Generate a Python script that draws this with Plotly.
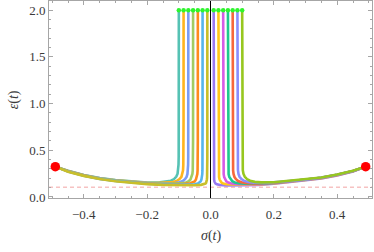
import plotly.graph_objects as go

# ---- data ----
left_ends = [-0.1, -0.085, -0.07, -0.055, -0.04, -0.025, -0.01]
right_ends = [0.01, 0.025, 0.04, 0.055, 0.07, 0.085, 0.1]

left_colors = ["#56c2b4", "#ffb41e", "#7a9cf5", "#a2cc62", "#ff8a1c", "#55b5ee", "#c9bf2a"]
right_colors = ["#9878f2", "#ffc61a", "#d65be6", "#1ec98f", "#f7673d", "#8a8dff", "#97c71f"]

L1_sig = [-0.49, -0.45, -0.40, -0.35, -0.30, -0.25, -0.20, -0.16, -0.14, -0.125, -0.115, -0.108, -0.104, -0.102, -0.101, -0.1005, -0.1002, -0.1001, -0.1]
L1_eps = [0.325, 0.280, 0.235, 0.202, 0.181, 0.166, 0.155, 0.156, 0.162, 0.174, 0.192, 0.218, 0.249, 0.287, 0.345, 0.430, 0.609, 0.819, 2.0]

L2_sig = [-0.49, -0.45, -0.40, -0.35, -0.30, -0.25, -0.20, -0.17, -0.136, -0.119, -0.1063, -0.0978, -0.0918, -0.0884, -0.0867, -0.0859, -0.0854, -0.0852, -0.0851, -0.085]
L2_eps = [0.325, 0.279, 0.233, 0.201, 0.179, 0.164, 0.152, 0.149, 0.153, 0.160, 0.172, 0.191, 0.216, 0.248, 0.286, 0.344, 0.429, 0.608, 0.818, 2.0]

L3_sig = [-0.49, -0.45, -0.40, -0.35, -0.30, -0.25, -0.20, -0.15, -0.14, -0.112, -0.098, -0.0875, -0.0805, -0.0756, -0.0728, -0.0714, -0.0707, -0.07035, -0.07014, -0.07007, -0.07]
L3_eps = [0.325, 0.277, 0.232, 0.199, 0.177, 0.162, 0.149, 0.145, 0.145, 0.150, 0.158, 0.170, 0.190, 0.215, 0.247, 0.285, 0.343, 0.428, 0.607, 0.817, 2.0]

L4_sig = [-0.49, -0.45, -0.40, -0.35, -0.30, -0.25, -0.20, -0.15, -0.11, -0.088, -0.077, -0.0688, -0.0633, -0.0594, -0.0572, -0.0561, -0.0556, -0.0553, -0.0551, -0.05505, -0.055]
L4_eps = [0.325, 0.276, 0.231, 0.198, 0.175, 0.160, 0.147, 0.141, 0.142, 0.148, 0.156, 0.169, 0.188, 0.214, 0.246, 0.284, 0.342, 0.427, 0.606, 0.816, 2.0]

L5_sig = [-0.49, -0.45, -0.40, -0.35, -0.30, -0.25, -0.20, -0.15, -0.10, -0.08, -0.064, -0.056, -0.05, -0.046, -0.0432, -0.0416, -0.0408, -0.0404, -0.0402, -0.04008, -0.04004, -0.04]
L5_eps = [0.325, 0.275, 0.229, 0.196, 0.174, 0.158, 0.144, 0.137, 0.137, 0.140, 0.147, 0.155, 0.167, 0.187, 0.213, 0.245, 0.283, 0.341, 0.426, 0.605, 0.815, 2.0]

L6_sig = [-0.49, -0.45, -0.40, -0.35, -0.30, -0.25, -0.20, -0.15, -0.10, -0.07, -0.05, -0.04, -0.035, -0.03125, -0.02875, -0.027, -0.026, -0.0255, -0.02525, -0.02513, -0.02505, -0.02503, -0.025]
L6_eps = [0.325, 0.273, 0.228, 0.194, 0.172, 0.155, 0.141, 0.134, 0.132, 0.133, 0.137, 0.145, 0.153, 0.166, 0.186, 0.212, 0.244, 0.282, 0.340, 0.425, 0.604, 0.814, 2.0]

L7_sig = [-0.49, -0.45, -0.40, -0.35, -0.30, -0.25, -0.20, -0.15, -0.10, -0.07, -0.05, -0.03, -0.02, -0.016, -0.014, -0.0125, -0.0115, -0.0108, -0.0104, -0.0102, -0.0101, -0.01005, -0.01002, -0.01001, -0.01]
L7_eps = [0.325, 0.271, 0.226, 0.192, 0.169, 0.153, 0.138, 0.130, 0.126, 0.126, 0.126, 0.130, 0.136, 0.144, 0.152, 0.165, 0.185, 0.211, 0.243, 0.281, 0.339, 0.424, 0.603, 0.813, 2.0]

R1_sig = [0.01, 0.01001, 0.01002, 0.01005, 0.0101, 0.0102, 0.0104, 0.0108, 0.0115, 0.0125, 0.014, 0.016, 0.02, 0.03, 0.05, 0.07, 0.10, 0.15, 0.20, 0.25, 0.30, 0.35, 0.40, 0.45, 0.49]
R1_eps = [2.0, 0.813, 0.603, 0.424, 0.339, 0.281, 0.243, 0.211, 0.185, 0.165, 0.152, 0.144, 0.136, 0.128, 0.124, 0.124, 0.125, 0.130, 0.141, 0.159, 0.176, 0.199, 0.231, 0.273, 0.325]

R2_sig = [0.025, 0.02503, 0.02505, 0.02513, 0.02525, 0.0255, 0.026, 0.027, 0.02875, 0.03125, 0.035, 0.04, 0.05, 0.07, 0.10, 0.15, 0.20, 0.25, 0.30, 0.35, 0.40, 0.45, 0.49]
R2_eps = [2.0, 0.814, 0.604, 0.425, 0.340, 0.282, 0.244, 0.212, 0.186, 0.166, 0.153, 0.145, 0.137, 0.133, 0.132, 0.134, 0.144, 0.161, 0.179, 0.201, 0.233, 0.275, 0.325]

R3_sig = [0.04, 0.04004, 0.04008, 0.0402, 0.0404, 0.0408, 0.0416, 0.0432, 0.046, 0.05, 0.056, 0.064, 0.08, 0.10, 0.15, 0.20, 0.25, 0.30, 0.35, 0.40, 0.45, 0.49]
R3_eps = [2.0, 0.815, 0.605, 0.426, 0.341, 0.283, 0.245, 0.213, 0.187, 0.167, 0.155, 0.147, 0.140, 0.137, 0.137, 0.147, 0.164, 0.181, 0.203, 0.235, 0.277, 0.325]

R4_sig = [0.055, 0.05505, 0.0551, 0.0553, 0.0556, 0.0561, 0.0572, 0.0594, 0.0633, 0.0688, 0.077, 0.088, 0.11, 0.15, 0.20, 0.25, 0.30, 0.35, 0.40, 0.45, 0.49]
R4_eps = [2.0, 0.816, 0.606, 0.427, 0.342, 0.284, 0.246, 0.214, 0.188, 0.169, 0.156, 0.148, 0.142, 0.141, 0.150, 0.166, 0.182, 0.205, 0.237, 0.278, 0.325]

R5_sig = [0.07, 0.07007, 0.07014, 0.07035, 0.0707, 0.0714, 0.0728, 0.0756, 0.0805, 0.0875, 0.098, 0.112, 0.14, 0.15, 0.20, 0.25, 0.30, 0.35, 0.40, 0.45, 0.49]
R5_eps = [2.0, 0.817, 0.607, 0.428, 0.343, 0.285, 0.247, 0.215, 0.190, 0.170, 0.158, 0.150, 0.145, 0.145, 0.152, 0.168, 0.184, 0.206, 0.238, 0.279, 0.325]

R6_sig = [0.085, 0.0851, 0.0852, 0.0854, 0.0859, 0.0867, 0.0884, 0.0918, 0.0978, 0.1063, 0.119, 0.136, 0.17, 0.20, 0.25, 0.30, 0.35, 0.40, 0.45, 0.49]
R6_eps = [2.0, 0.818, 0.608, 0.429, 0.344, 0.286, 0.248, 0.216, 0.191, 0.172, 0.160, 0.153, 0.149, 0.155, 0.170, 0.185, 0.207, 0.239, 0.279, 0.325]

R7_sig = [0.1, 0.1001, 0.1002, 0.1005, 0.101, 0.102, 0.104, 0.108, 0.115, 0.125, 0.14, 0.16, 0.20, 0.25, 0.30, 0.35, 0.40, 0.45, 0.49]
R7_eps = [2.0, 0.819, 0.609, 0.430, 0.345, 0.287, 0.249, 0.218, 0.192, 0.174, 0.162, 0.156, 0.158, 0.172, 0.187, 0.208, 0.241, 0.280, 0.325]

start_sigma = [-0.49, 0.49]
start_eps = [0.325, 0.325]
end_eps = 2.0
floor_eps = 0.105

x_ticks = [-0.4, -0.2, 0.0, 0.2, 0.4]
x_labels = ["\u22120.4", "\u22120.2", "0.0", "0.2", "0.4"]
y_ticks = [0.0, 0.5, 1.0, 1.5, 2.0]
y_labels = ["0.0", "0.5", "1.0", "1.5", "2.0"]

curves = [
    (L1_sig, L1_eps), (L2_sig, L2_eps), (L3_sig, L3_eps), (L4_sig, L4_eps),
    (L5_sig, L5_eps), (L6_sig, L6_eps), (L7_sig, L7_eps),
    (R1_sig, R1_eps), (R2_sig, R2_eps), (R3_sig, R3_eps), (R4_sig, R4_eps),
    (R5_sig, R5_eps), (R6_sig, R6_eps), (R7_sig, R7_eps),
]
colors = left_colors + right_colors

fig = go.Figure()

# dashed floor line
fig.add_trace(go.Scatter(x=[-0.51, 0.51], y=[floor_eps, floor_eps], mode="lines",
                         line=dict(color="#f2a3a3", width=1, dash="4px,3px"),
                         hoverinfo="skip", showlegend=False))

for (sx, sy), c in zip(curves, colors):
    fig.add_trace(go.Scatter(x=sx, y=sy, mode="lines",
                             line=dict(color=c, width=2.6),
                             showlegend=False))

# end points at the top
fig.add_trace(go.Scatter(x=left_ends + right_ends, y=[end_eps] * 14, mode="markers",
                         marker=dict(color="#2df52d", size=4.5),
                         showlegend=False))

# start points
fig.add_trace(go.Scatter(x=start_sigma, y=start_eps, mode="markers",
                         marker=dict(color="#ff0000", size=9.5),
                         showlegend=False))

# vertical axis at sigma = 0
fig.add_shape(type="line", x0=0, x1=0, y0=0, y1=1, xref="x", yref="paper",
              line=dict(color="black", width=1))

tickfont = dict(family="Liberation Serif", size=13, color="#3a3a3a")
frame = "#a6a6a6"

fig.update_xaxes(range=[-0.51, 0.51], tickvals=x_ticks, ticktext=x_labels,
                 ticks="inside", ticklen=4, tickcolor=frame, tickwidth=1,
                 showline=True, linecolor=frame, linewidth=1, mirror="ticks",
                 showgrid=False, zeroline=False, tickfont=tickfont,
                 ticklabelstandoff=4,
                 minor=dict(dtick=0.05, tick0=0, ticks="inside", ticklen=2,
                            tickcolor=frame, showgrid=False))
fig.update_yaxes(range=[-0.011, 2.099], tickvals=y_ticks, ticktext=y_labels,
                 ticks="inside", ticklen=4, tickcolor=frame, tickwidth=1,
                 showline=True, linecolor=frame, linewidth=1, mirror="ticks",
                 showgrid=False, zeroline=False, tickfont=tickfont,
                 minor=dict(dtick=0.1, tick0=0, ticks="inside", ticklen=2,
                            tickcolor=frame, showgrid=False))

fig.add_annotation(text="<i>\u03b5</i>(<i>t</i>)", xref="paper", yref="paper",
                   x=-0.14, y=0.5, showarrow=False, textangle=-90,
                   font=dict(family="Liberation Serif", size=14, color="#3a3a3a"))
fig.add_annotation(text="<i>\u03c3</i>(<i>t</i>)", xref="paper", yref="paper",
                   x=0.5, y=-0.245, showarrow=False,
                   font=dict(family="Liberation Serif", size=14, color="#3a3a3a"))

fig.update_layout(width=374, height=252, margin=dict(l=49, r=2, t=1, b=54),
                  paper_bgcolor="white", plot_bgcolor="white")

fig.write_html("out.html", config={"displayModeBar": False},
               post_script="document.body.style.margin='0';document.body.style.padding='0';"
                           "document.documentElement.style.overflow='hidden';")
